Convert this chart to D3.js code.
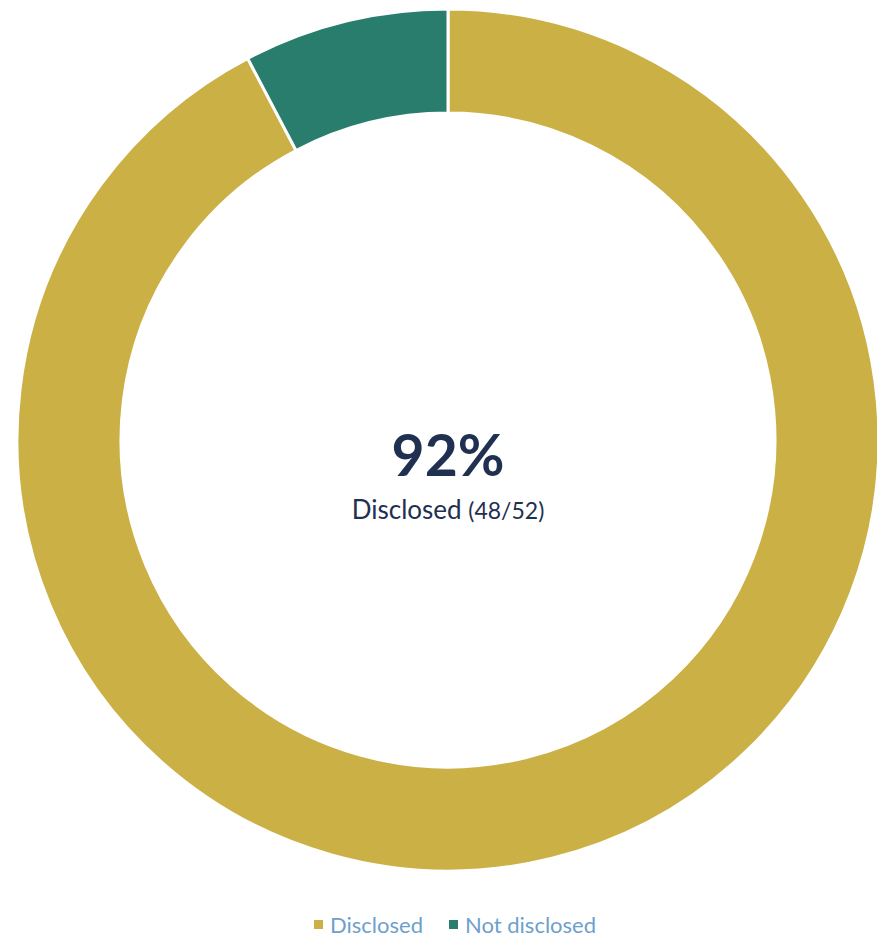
<!DOCTYPE html>
<html><head><meta charset="utf-8">
<script src="https://cdn.jsdelivr.net/npm/d3@7"></script>
<style>body{margin:0;background:#fff;}svg{display:block;}</style>
</head><body>
<svg id="chart" width="877" height="938"></svg>
<script>
const categories = ["Disclosed", "Not disclosed"];
const values = [48, 4];
const colors = ["#CBB045", "#287D6C"];
const centerValue = "92%";
const centerLabel = "Disclosed";
const centerCount = "(48/52)";

const svg = d3.select("#chart");
const cx = 448, cy = 440, rOuter = 431, rInner = 327;
const font = "Lato, 'Open Sans', sans-serif";

const pie = d3.pie().sort(null).value(d => d)(values);
const arc = d3.arc().innerRadius(rInner).outerRadius(rOuter);
const color = d3.scaleOrdinal().domain(categories).range(colors);

const g = svg.append("g").attr("transform", `translate(${cx},${cy})`);
g.selectAll("path").data(pie).join("path")
  .attr("d", arc)
  .attr("fill", (d, i) => color(categories[i]))
  .attr("stroke", "#fff").attr("stroke-width", 3);

g.append("text").attr("text-anchor", "middle").attr("y", 36)
  .attr("font-family", font).attr("font-weight", 700).attr("font-size", 57)
  .attr("fill", "#1F3050").text(centerValue);
const t = g.append("text").attr("text-anchor", "middle").attr("y", 79)
  .attr("font-family", font).attr("font-size", 26).attr("fill", "#1F3050");
t.append("tspan").text(centerLabel + " ");
t.append("tspan").attr("font-size", 23).text(centerCount);

const legend = svg.append("g").attr("transform", "translate(0,933)");
const items = [{x: 314}, {x: 449}];
categories.forEach((c, i) => {
  const lg = legend.append("g").attr("transform", `translate(${items[i].x},0)`);
  lg.append("rect").attr("x", 0).attr("y", -13).attr("width", 9).attr("height", 9).attr("fill", color(c));
  lg.append("text").attr("x", 16).attr("y", 0).attr("font-family", font).attr("font-size", 22)
    .attr("fill", "#6E9FCC").text(c);
});
</script>
</body></html>
